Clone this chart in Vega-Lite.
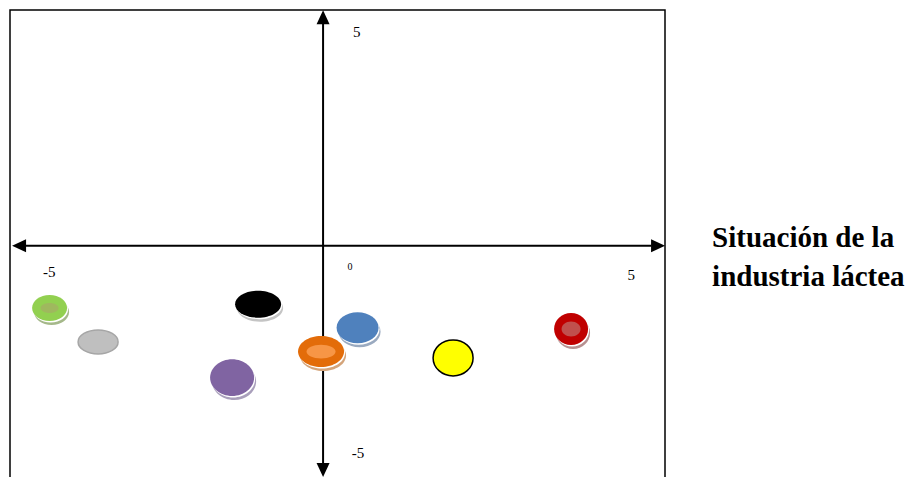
{
  "$schema": "https://vega.github.io/schema/vega-lite/v6.json",
  "width": 655,
  "height": 470,
  "autosize": {"type": "none"},
  "padding": {"left": 10, "top": 10, "right": 244, "bottom": 0},
  "background": "white",
  "config": {"view": {"stroke": "black", "strokeWidth": 1.5}},
  "datasets": {
    "pts": [
      {"name": "green", "x": -4.455, "y": -1.48},
      {"name": "gray", "x": -3.665, "y": -2.29},
      {"name": "black", "x": -1.059, "y": -1.39},
      {"name": "purple", "x": -1.482, "y": -3.14},
      {"name": "orange", "x": -0.033, "y": -2.52},
      {"name": "blue", "x": 0.562, "y": -1.95},
      {"name": "yellow", "x": 2.118, "y": -2.67},
      {"name": "red", "x": 4.04, "y": -1.98}
    ],
    "ticks": [
      {"label": "5", "x": 0.55, "y": 5.1},
      {"label": "-5", "x": -4.46, "y": -0.62},
      {"label": "5", "x": 5.02, "y": -0.7},
      {"label": "-5", "x": 0.57, "y": -4.94}
    ],
    "zero": [
      {"label": "0", "x": 0.44, "y": -0.5}
    ],
    "one": [{"k": 1}]
  },
  "layer": [
    {
      "data": {"name": "one"},
      "mark": {"type": "rule", "color": "black", "strokeWidth": 2},
      "encoding": {
        "x": {"datum": -4.85, "type": "quantitative", "scale": {"domain": [-5.1, 5.57], "nice": false, "zero": false}, "axis": null},
        "x2": {"datum": 5.35},
        "y": {"datum": 0, "type": "quantitative", "scale": {"domain": [-5.58, 5.62], "nice": false, "zero": false}, "axis": null}
      }
    },
    {
      "data": {"name": "one"},
      "mark": {"type": "rule", "color": "black", "strokeWidth": 2},
      "encoding": {
        "x": {"datum": 0, "type": "quantitative", "scale": {"domain": [-5.1, 5.57], "nice": false, "zero": false}, "axis": null},
        "y": {"datum": 5.3, "type": "quantitative", "scale": {"domain": [-5.58, 5.62], "nice": false, "zero": false}, "axis": null},
        "y2": {"datum": -5.2}
      }
    },
    {
      "data": {"name": "one"},
      "mark": {"type": "point", "filled": true, "color": "black", "opacity": 1, "size": 196, "shape": "M0,-1L0.93,1L-0.93,1Z"},
      "encoding": {
        "x": {"datum": 0, "type": "quantitative", "scale": {"domain": [-5.1, 5.57], "nice": false, "zero": false}, "axis": null},
        "y": {"datum": 5.45, "type": "quantitative", "scale": {"domain": [-5.58, 5.62], "nice": false, "zero": false}, "axis": null}
      }
    },
    {
      "data": {"name": "one"},
      "mark": {"type": "point", "filled": true, "color": "black", "opacity": 1, "size": 196, "shape": "M0,1L0.93,-1L-0.93,-1Z"},
      "encoding": {
        "x": {"datum": 0, "type": "quantitative", "scale": {"domain": [-5.1, 5.57], "nice": false, "zero": false}, "axis": null},
        "y": {"datum": -5.34, "type": "quantitative", "scale": {"domain": [-5.58, 5.62], "nice": false, "zero": false}, "axis": null}
      }
    },
    {
      "data": {"name": "one"},
      "mark": {"type": "point", "filled": true, "color": "black", "opacity": 1, "size": 196, "shape": "M-1,0L1,-0.93L1,0.93Z"},
      "encoding": {
        "x": {"datum": -4.952, "type": "quantitative", "scale": {"domain": [-5.1, 5.57], "nice": false, "zero": false}, "axis": null},
        "y": {"datum": 0, "type": "quantitative", "scale": {"domain": [-5.58, 5.62], "nice": false, "zero": false}, "axis": null}
      }
    },
    {
      "data": {"name": "one"},
      "mark": {"type": "point", "filled": true, "color": "black", "opacity": 1, "size": 196, "shape": "M1,0L-1,-0.93L-1,0.93Z"},
      "encoding": {
        "x": {"datum": 5.457, "type": "quantitative", "scale": {"domain": [-5.1, 5.57], "nice": false, "zero": false}, "axis": null},
        "y": {"datum": 0, "type": "quantitative", "scale": {"domain": [-5.58, 5.62], "nice": false, "zero": false}, "axis": null}
      }
    },
    {
      "data": {"name": "pts"},
      "transform": [{"filter": "datum.name !== 'gray' && datum.name !== 'yellow'"}],
      "mark": {"type": "point", "filled": true, "opacity": 1, "xOffset": 2, "yOffset": 4},
      "encoding": {
        "x": {"field": "x", "type": "quantitative", "scale": {"domain": [-5.1, 5.57], "nice": false, "zero": false}, "axis": null},
        "y": {"field": "y", "type": "quantitative", "scale": {"domain": [-5.58, 5.62], "nice": false, "zero": false}, "axis": null},
        "shape": {"field": "name", "type": "nominal", "legend": null, "scale": {
          "domain": ["green", "gray", "black", "purple", "orange", "blue", "yellow", "red"],
          "range": [
            "M1,0C1,0.41 0.552,0.743 0,0.743C-0.552,0.743 -1,0.41 -1,0C-1,-0.41 -0.552,-0.743 0,-0.743C0.552,-0.743 1,-0.41 1,0Z",
            "M1,0C1,0.331 0.552,0.6 0,0.6C-0.552,0.6 -1,0.331 -1,0C-1,-0.331 -0.552,-0.6 0,-0.6C0.552,-0.6 1,-0.331 1,0Z",
            "M1,0C1,0.324 0.552,0.587 0,0.587C-0.552,0.587 -1,0.324 -1,0C-1,-0.324 -0.552,-0.587 0,-0.587C0.552,-0.587 1,-0.324 1,0Z",
            "M1,0C1,0.464 0.552,0.84 0,0.84C-0.552,0.84 -1,0.464 -1,0C-1,-0.464 -0.552,-0.84 0,-0.84C0.552,-0.84 1,-0.464 1,0Z",
            "M1,0C1,0.372 0.552,0.674 0,0.674C-0.552,0.674 -1,0.372 -1,0C-1,-0.372 -0.552,-0.674 0,-0.674C0.552,-0.674 1,-0.372 1,0Z",
            "M1,0C1,0.408 0.552,0.738 0,0.738C-0.552,0.738 -1,0.408 -1,0C-1,-0.408 -0.552,-0.738 0,-0.738C0.552,-0.738 1,-0.408 1,0Z",
            "M1,0C1,0.497 0.552,0.9 0,0.9C-0.552,0.9 -1,0.497 -1,0C-1,-0.497 -0.552,-0.9 0,-0.9C0.552,-0.9 1,-0.497 1,0Z",
            "M1,0C1,0.519 0.552,0.94 0,0.94C-0.552,0.94 -1,0.519 -1,0C-1,-0.519 -0.552,-0.94 0,-0.94C0.552,-0.94 1,-0.519 1,0Z"
          ]}},
        "size": {"field": "name", "type": "nominal", "legend": null, "scale": {"type": "ordinal",
          "domain": ["green", "gray", "black", "purple", "orange", "blue", "yellow", "red"],
          "range": [1225, 1600, 2116, 1936, 2116, 1764, 1600, 1156]}},
        "fill": {"field": "name", "type": "nominal", "legend": null, "scale": {
          "domain": ["green", "gray", "black", "purple", "orange", "blue", "yellow", "red"],
          "range": ["#a5b88a", "#ffffff", "#c4c4c4", "#a99fbb", "#d4a47a", "#9aaac0", "#ffffff", "#b79090"]}}
      }
    },
    {
      "data": {"name": "pts"},
      "transform": [{"filter": "datum.name !== 'gray' && datum.name !== 'yellow'"}],
      "mark": {"type": "point", "filled": true, "opacity": 1, "xOffset": 1, "yOffset": 1.5, "color": "white"},
      "encoding": {
        "x": {"field": "x", "type": "quantitative", "scale": {"domain": [-5.1, 5.57], "nice": false, "zero": false}, "axis": null},
        "y": {"field": "y", "type": "quantitative", "scale": {"domain": [-5.58, 5.62], "nice": false, "zero": false}, "axis": null},
        "shape": {"field": "name", "type": "nominal", "legend": null, "scale": {
          "domain": ["green", "gray", "black", "purple", "orange", "blue", "yellow", "red"],
          "range": [
            "M1,0C1,0.41 0.552,0.743 0,0.743C-0.552,0.743 -1,0.41 -1,0C-1,-0.41 -0.552,-0.743 0,-0.743C0.552,-0.743 1,-0.41 1,0Z",
            "M1,0C1,0.331 0.552,0.6 0,0.6C-0.552,0.6 -1,0.331 -1,0C-1,-0.331 -0.552,-0.6 0,-0.6C0.552,-0.6 1,-0.331 1,0Z",
            "M1,0C1,0.324 0.552,0.587 0,0.587C-0.552,0.587 -1,0.324 -1,0C-1,-0.324 -0.552,-0.587 0,-0.587C0.552,-0.587 1,-0.324 1,0Z",
            "M1,0C1,0.464 0.552,0.84 0,0.84C-0.552,0.84 -1,0.464 -1,0C-1,-0.464 -0.552,-0.84 0,-0.84C0.552,-0.84 1,-0.464 1,0Z",
            "M1,0C1,0.372 0.552,0.674 0,0.674C-0.552,0.674 -1,0.372 -1,0C-1,-0.372 -0.552,-0.674 0,-0.674C0.552,-0.674 1,-0.372 1,0Z",
            "M1,0C1,0.408 0.552,0.738 0,0.738C-0.552,0.738 -1,0.408 -1,0C-1,-0.408 -0.552,-0.738 0,-0.738C0.552,-0.738 1,-0.408 1,0Z",
            "M1,0C1,0.497 0.552,0.9 0,0.9C-0.552,0.9 -1,0.497 -1,0C-1,-0.497 -0.552,-0.9 0,-0.9C0.552,-0.9 1,-0.497 1,0Z",
            "M1,0C1,0.519 0.552,0.94 0,0.94C-0.552,0.94 -1,0.519 -1,0C-1,-0.519 -0.552,-0.94 0,-0.94C0.552,-0.94 1,-0.519 1,0Z"
          ]}},
        "size": {"field": "name", "type": "nominal", "legend": null, "scale": {"type": "ordinal",
          "domain": ["green", "gray", "black", "purple", "orange", "blue", "yellow", "red"],
          "range": [1225, 1600, 2116, 1936, 2116, 1764, 1600, 1156]}}
      }
    },
    {
      "data": {"name": "pts"},
      "mark": {"type": "point", "filled": true, "opacity": 1, "strokeWidth": 1.5},
      "encoding": {
        "x": {"field": "x", "type": "quantitative", "scale": {"domain": [-5.1, 5.57], "nice": false, "zero": false}, "axis": null},
        "y": {"field": "y", "type": "quantitative", "scale": {"domain": [-5.58, 5.62], "nice": false, "zero": false}, "axis": null},
        "shape": {"field": "name", "type": "nominal", "legend": null, "scale": {
          "domain": ["green", "gray", "black", "purple", "orange", "blue", "yellow", "red"],
          "range": [
            "M1,0C1,0.41 0.552,0.743 0,0.743C-0.552,0.743 -1,0.41 -1,0C-1,-0.41 -0.552,-0.743 0,-0.743C0.552,-0.743 1,-0.41 1,0Z",
            "M1,0C1,0.331 0.552,0.6 0,0.6C-0.552,0.6 -1,0.331 -1,0C-1,-0.331 -0.552,-0.6 0,-0.6C0.552,-0.6 1,-0.331 1,0Z",
            "M1,0C1,0.324 0.552,0.587 0,0.587C-0.552,0.587 -1,0.324 -1,0C-1,-0.324 -0.552,-0.587 0,-0.587C0.552,-0.587 1,-0.324 1,0Z",
            "M1,0C1,0.464 0.552,0.84 0,0.84C-0.552,0.84 -1,0.464 -1,0C-1,-0.464 -0.552,-0.84 0,-0.84C0.552,-0.84 1,-0.464 1,0Z",
            "M1,0C1,0.372 0.552,0.674 0,0.674C-0.552,0.674 -1,0.372 -1,0C-1,-0.372 -0.552,-0.674 0,-0.674C0.552,-0.674 1,-0.372 1,0Z",
            "M1,0C1,0.408 0.552,0.738 0,0.738C-0.552,0.738 -1,0.408 -1,0C-1,-0.408 -0.552,-0.738 0,-0.738C0.552,-0.738 1,-0.408 1,0Z",
            "M1,0C1,0.497 0.552,0.9 0,0.9C-0.552,0.9 -1,0.497 -1,0C-1,-0.497 -0.552,-0.9 0,-0.9C0.552,-0.9 1,-0.497 1,0Z",
            "M1,0C1,0.519 0.552,0.94 0,0.94C-0.552,0.94 -1,0.519 -1,0C-1,-0.519 -0.552,-0.94 0,-0.94C0.552,-0.94 1,-0.519 1,0Z"
          ]}},
        "size": {"field": "name", "type": "nominal", "legend": null, "scale": {"type": "ordinal",
          "domain": ["green", "gray", "black", "purple", "orange", "blue", "yellow", "red"],
          "range": [1225, 1600, 2116, 1936, 2116, 1764, 1600, 1156]}},
        "fill": {"field": "name", "type": "nominal", "legend": null, "scale": {
          "domain": ["green", "gray", "black", "purple", "orange", "blue", "yellow", "red"],
          "range": ["#92d050", "#bfbfbf", "#000000", "#8064a2", "#e36c09", "#4f81bd", "#ffff00", "#c00000"]}},
        "stroke": {"field": "name", "type": "nominal", "legend": null, "scale": {
          "domain": ["green", "gray", "black", "purple", "orange", "blue", "yellow", "red"],
          "range": ["transparent", "#a6a6a6", "transparent", "transparent", "transparent", "transparent", "#000000", "transparent"]}}
      }
    },
    {
      "data": {"name": "pts"},
      "transform": [{"filter": "datum.name === 'green'"}],
      "mark": {"type": "point", "filled": true, "opacity": 1, "color": "#9fb85e", "size": 324,
        "shape": "M1,0C1,0.307 0.552,0.556 0,0.556C-0.552,0.556 -1,0.307 -1,0C-1,-0.307 -0.552,-0.556 0,-0.556C0.552,-0.556 1,-0.307 1,0Z"},
      "encoding": {
        "x": {"field": "x", "type": "quantitative", "scale": {"domain": [-5.1, 5.57], "nice": false, "zero": false}, "axis": null},
        "y": {"field": "y", "type": "quantitative", "scale": {"domain": [-5.58, 5.62], "nice": false, "zero": false}, "axis": null}
      }
    },
    {
      "data": {"name": "pts"},
      "transform": [{"filter": "datum.name === 'orange'"}],
      "mark": {"type": "point", "filled": true, "opacity": 1, "color": "#f79646", "size": 841,
        "shape": "M1,0C1,0.265 0.552,0.48 0,0.48C-0.552,0.48 -1,0.265 -1,0C-1,-0.265 -0.552,-0.48 0,-0.48C0.552,-0.48 1,-0.265 1,0Z"},
      "encoding": {
        "x": {"field": "x", "type": "quantitative", "scale": {"domain": [-5.1, 5.57], "nice": false, "zero": false}, "axis": null},
        "y": {"field": "y", "type": "quantitative", "scale": {"domain": [-5.58, 5.62], "nice": false, "zero": false}, "axis": null}
      }
    },
    {
      "data": {"name": "pts"},
      "transform": [{"filter": "datum.name === 'red'"}],
      "mark": {"type": "point", "filled": true, "opacity": 1, "color": "#c0504d", "size": 361,
        "shape": "M1,0C1,0.436 0.552,0.79 0,0.79C-0.552,0.79 -1,0.436 -1,0C-1,-0.436 -0.552,-0.79 0,-0.79C0.552,-0.79 1,-0.436 1,0Z"},
      "encoding": {
        "x": {"field": "x", "type": "quantitative", "scale": {"domain": [-5.1, 5.57], "nice": false, "zero": false}, "axis": null},
        "y": {"field": "y", "type": "quantitative", "scale": {"domain": [-5.58, 5.62], "nice": false, "zero": false}, "axis": null}
      }
    },
    {
      "data": {"name": "ticks"},
      "mark": {"type": "text", "font": "Liberation Serif, Times New Roman, serif", "fontSize": 15, "color": "black", "align": "center", "baseline": "middle"},
      "encoding": {
        "x": {"field": "x", "type": "quantitative", "scale": {"domain": [-5.1, 5.57], "nice": false, "zero": false}, "axis": null},
        "y": {"field": "y", "type": "quantitative", "scale": {"domain": [-5.58, 5.62], "nice": false, "zero": false}, "axis": null},
        "text": {"field": "label"}
      }
    },
    {
      "data": {"name": "zero"},
      "mark": {"type": "text", "font": "Liberation Serif, Times New Roman, serif", "fontSize": 10, "color": "black", "align": "center", "baseline": "middle"},
      "encoding": {
        "x": {"field": "x", "type": "quantitative", "scale": {"domain": [-5.1, 5.57], "nice": false, "zero": false}, "axis": null},
        "y": {"field": "y", "type": "quantitative", "scale": {"domain": [-5.58, 5.62], "nice": false, "zero": false}, "axis": null},
        "text": {"field": "label"}
      }
    },
    {
      "data": {"name": "one"},
      "mark": {"type": "text", "font": "Liberation Serif, Times New Roman, serif", "fontSize": 29, "fontWeight": "bold", "color": "black", "align": "left", "baseline": "alphabetic", "lineHeight": 39,
        "text": ["Situación de la", "industria láctea"]},
      "encoding": {
        "x": {"datum": 6.337, "type": "quantitative", "scale": {"domain": [-5.1, 5.57], "nice": false, "zero": false}, "axis": null},
        "y": {"datum": -0.03, "type": "quantitative", "scale": {"domain": [-5.58, 5.62], "nice": false, "zero": false}, "axis": null}
      }
    }
  ],
  "resolve": {"scale": {"fill": "independent"}}
}
